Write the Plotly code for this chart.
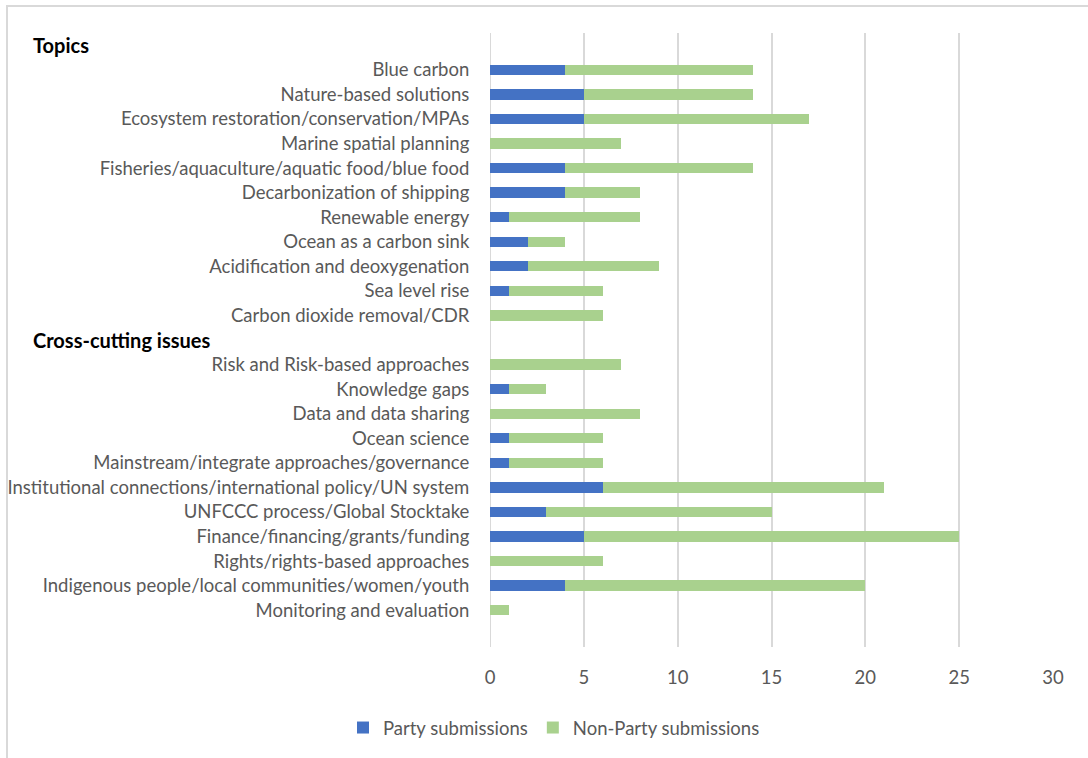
import plotly.graph_objects as go

categories = [
    "Topics",
    "Blue carbon",
    "Nature-based solutions",
    "Ecosystem restoration/conservation/MPAs",
    "Marine spatial planning",
    "Fisheries/aquaculture/aquatic food/blue food",
    "Decarbonization of shipping",
    "Renewable energy",
    "Ocean as a carbon sink",
    "Acidification and deoxygenation",
    "Sea level rise",
    "Carbon dioxide removal/CDR",
    "Cross-cutting issues",
    "Risk and Risk-based approaches",
    "Knowledge gaps",
    "Data and data sharing",
    "Ocean science",
    "Mainstream/integrate approaches/governance",
    "Institutional connections/international policy/UN system",
    "UNFCCC process/Global Stocktake",
    "Finance/financing/grants/funding",
    "Rights/rights-based approaches",
    "Indigenous people/local communities/women/youth",
    "Monitoring and evaluation",
    "",
]
headers = ["Topics", "Cross-cutting issues"]

party = [None, 4, 5, 5, 0, 4, 4, 1, 2, 2, 1, 0,
         None, 0, 1, 0, 1, 1, 6, 3, 5, 0, 4, 0, None]
non_party = [None, 10, 9, 12, 7, 10, 4, 7, 2, 7, 5, 6,
             None, 7, 2, 8, 5, 5, 15, 12, 20, 6, 16, 1, None]

x_ticks = [0, 5, 10, 15, 20, 25, 30]

BLUE = "#4472C4"
GREEN = "#A9D18E"
FONT = "Lato"
FS = 18.5

ids = list(range(len(categories)))
ticktext = ["" if c in headers else c for c in categories]

fig = go.Figure()
fig.add_trace(go.Bar(y=ids, x=party, orientation="h", name="Party submissions",
                     marker=dict(color=BLUE, line=dict(width=0))))
fig.add_trace(go.Bar(y=ids, x=non_party, orientation="h", name="Non-Party submissions",
                     marker=dict(color=GREEN, line=dict(width=0))))

L, R, T, B = 490, 35, 33, 110
W, H = 1088, 758
pw = W - L - R
ph = H - T - B

def px_x(p):
    return (p - L) / pw

def px_y(p):
    return (H - B - p) / ph

for h in headers:
    fig.add_annotation(x=px_x(31), xref="paper", y=categories.index(h), yref="y",
                       text="<b>%s</b>" % h, showarrow=False, xanchor="left",
                       yanchor="middle", font=dict(family=FONT, size=20, color="#000000"))

fig.add_shape(type="rect", xref="paper", yref="paper",
              x0=px_x(7), x1=px_x(1120), y0=px_y(800), y1=px_y(6),
              line=dict(color="#D9D9D9", width=2), fillcolor="rgba(0,0,0,0)", layer="below")

fig.update_layout(
    width=W, height=H,
    margin=dict(l=L, r=R, t=T, b=B, pad=0),
    barmode="stack", bargap=0.58,
    plot_bgcolor="white", paper_bgcolor="white",
    font=dict(family=FONT, size=FS, color="#595959"),
    showlegend=True,
    legend=dict(orientation="h", x=px_x(554), xanchor="center", y=px_y(728), yanchor="middle",
                font=dict(family=FONT, size=FS, color="#595959"), traceorder="normal",
                itemwidth=30),
    xaxis=dict(range=[0, 30], tickvals=x_ticks, showgrid=True, gridcolor="#D9D9D9", gridwidth=2,
               zeroline=False, showline=False, ticks="outside", ticklen=14, automargin=False,
               tickcolor="rgba(0,0,0,0)", tickfont=dict(size=FS, color="#595959")),
    yaxis=dict(tickvals=ids, ticktext=ticktext, range=[len(categories) - 0.5, -0.5],
               showgrid=False, zeroline=False, showline=False, ticks="outside", ticklen=16,
               automargin=False,
               tickcolor="rgba(0,0,0,0)", tickfont=dict(size=FS, color="#595959")),
)
fig.add_vline(x=0, line=dict(color="#D9D9D9", width=2), layer="below")

fig.write_html("out.html")
